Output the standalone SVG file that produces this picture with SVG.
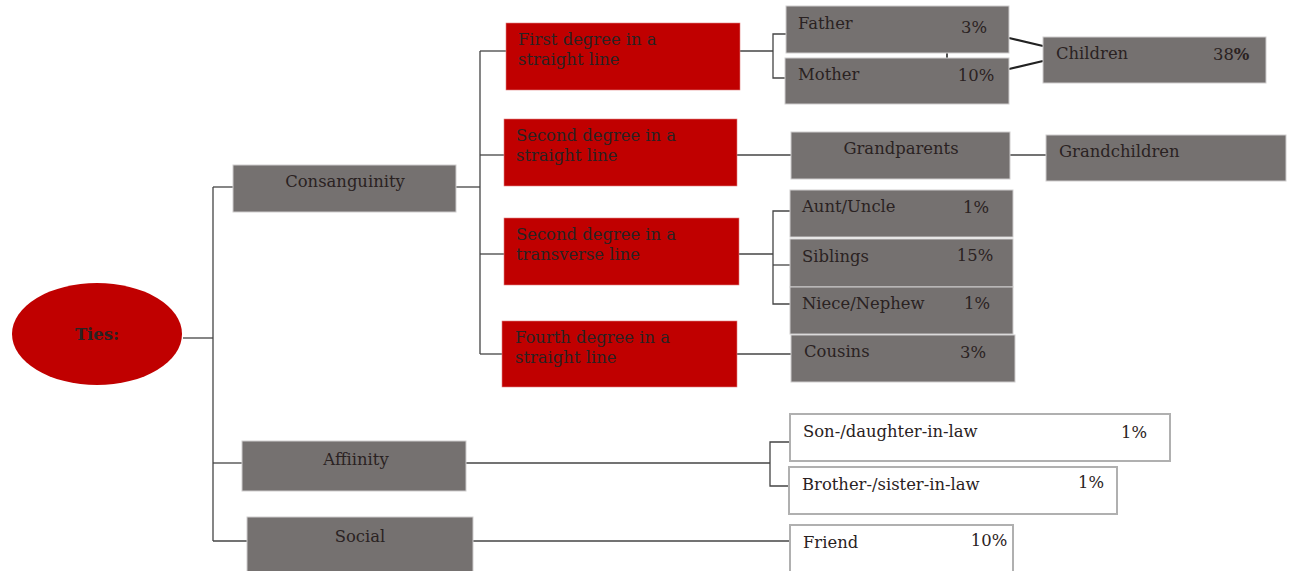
<svg xmlns="http://www.w3.org/2000/svg" width="1289" height="571" viewBox="0 0 1289 571">
<style>
text{font-family:"DejaVu Serif","Liberation Serif",serif;font-size:16.4px;fill:#2a2222}
.g{fill:#757170;stroke:#cfcdcd;stroke-width:1}
.r{fill:#c00000;stroke:#e08080;stroke-width:0.6}
.w{fill:#ffffff;stroke:#b0b0b0;stroke-width:2}
.c{fill:none;stroke:#444;stroke-width:1.3}
.t{fill:none;stroke:#222;stroke-width:2.2}
.m{text-anchor:middle}
</style>
<rect width="1289" height="571" fill="#ffffff"/>
<g id="connectors">
<polyline class="c" points="183,338 213,338"/>
<polyline class="c" points="213,187 213,541"/>
<polyline class="c" points="213,187 233,187"/>
<polyline class="c" points="213,463 242,463"/>
<polyline class="c" points="213,541 247,541"/>
<polyline class="c" points="456,187 480,187"/>
<polyline class="c" points="480,51 480,354"/>
<polyline class="c" points="480,51 506,51"/>
<polyline class="c" points="480,155 504,155"/>
<polyline class="c" points="480,254 504,254"/>
<polyline class="c" points="480,354 502,354"/>
<polyline class="c" points="740,51 773,51"/>
<polyline class="c" points="786,34 773,34 773,78 786,78"/>
<polyline class="c" points="737,155 791,155"/>
<polyline class="c" points="1010,155 1046,155"/>
<polyline class="c" points="739,254 773,254"/>
<polyline class="c" points="790,211 773,211 773,304 790,304"/>
<polyline class="c" points="773,265 790,265"/>
<polyline class="c" points="737,354 791,354"/>
<polyline class="c" points="466,463 770,463"/>
<polyline class="c" points="790,442 770,442 770,486 790,486"/>
<polyline class="c" points="473,541 790,541"/>
<line class="t" x1="1009" y1="38" x2="1043" y2="46"/>
<line class="t" x1="1009" y1="69" x2="1043" y2="61"/>
<line class="t" x1="947" y1="53" x2="947" y2="58" style="stroke-width:1.6"/>
</g>
<g id="ties"><ellipse cx="97" cy="334" rx="85" ry="51" fill="#c00000"/><text x="97" y="340" class="m" font-weight="bold">Ties:</text></g>
<g id="consanguinity"><rect class="g" x="233" y="165" width="223" height="47"/><text x="345" y="187" class="m">Consanguinity</text></g>
<g id="affinity"><rect class="g" x="242" y="441" width="224" height="50"/><text x="356" y="465" class="m">Affiinity</text></g>
<g id="social"><rect class="g" x="247" y="517" width="226" height="56"/><text x="360" y="542" class="m">Social</text></g>
<g id="first-degree"><rect class="r" x="506" y="23" width="234" height="67"/><text x="518" y="45">First degree in a</text><text x="518" y="65">straight line</text></g>
<g id="second-straight"><rect class="r" x="504" y="119" width="233" height="67"/><text x="516" y="141">Second degree in a</text><text x="516" y="161">straight line</text></g>
<g id="second-transverse"><rect class="r" x="504" y="218" width="235" height="67"/><text x="516" y="240">Second degree in a</text><text x="516" y="260">transverse line</text></g>
<g id="fourth-degree"><rect class="r" x="502" y="321" width="235" height="66"/><text x="515" y="343">Fourth degree in a</text><text x="515" y="363">straight line</text></g>
<g id="father"><rect class="g" x="786" y="6" width="223" height="47"/><text x="798" y="29">Father</text><text x="974" y="33" class="m">3%</text></g>
<g id="mother"><rect class="g" x="785" y="58" width="224" height="46"/><text x="798" y="80">Mother</text><text x="976" y="81" class="m">10%</text></g>
<g id="children"><rect class="g" x="1043" y="37" width="223" height="46"/><text x="1056" y="59">Children</text><text x="1213" y="60">38<tspan font-weight="bold">%</tspan></text></g>
<g id="grandparents"><rect class="g" x="791" y="132" width="219" height="47"/><text x="901" y="154" class="m">Grandparents</text></g>
<g id="grandchildren"><rect class="g" x="1046" y="135" width="240" height="46"/><text x="1059" y="157">Grandchildren</text></g>
<g id="aunt-uncle"><rect class="g" x="790" y="190" width="223" height="47"/><text x="802" y="212">Aunt/Uncle</text><text x="976" y="213" class="m">1%</text></g>
<g id="siblings"><rect class="g" x="790" y="239" width="223" height="48"/><text x="802" y="262">Siblings</text><text x="975" y="261" class="m">15%</text></g>
<g id="niece-nephew"><rect class="g" x="790" y="287" width="223" height="47"/><text x="802" y="309">Niece/Nephew</text><text x="977" y="309" class="m">1%</text></g>
<g id="cousins"><rect class="g" x="791" y="335" width="224" height="47"/><text x="804" y="357">Cousins</text><text x="973" y="358" class="m">3%</text></g>
<g id="son-daughter-in-law"><rect class="w" x="790" y="414" width="380" height="47"/><text x="803" y="437">Son-/daughter-in-law</text><text x="1134" y="438" class="m">1%</text></g>
<g id="brother-sister-in-law"><rect class="w" x="789" y="467" width="328" height="47"/><text x="802" y="490">Brother-/sister-in-law</text><text x="1091" y="488" class="m">1%</text></g>
<g id="friend"><rect class="w" x="790" y="525" width="223" height="52"/><text x="803" y="548">Friend</text><text x="989" y="546" class="m">10%</text></g>
</svg>
